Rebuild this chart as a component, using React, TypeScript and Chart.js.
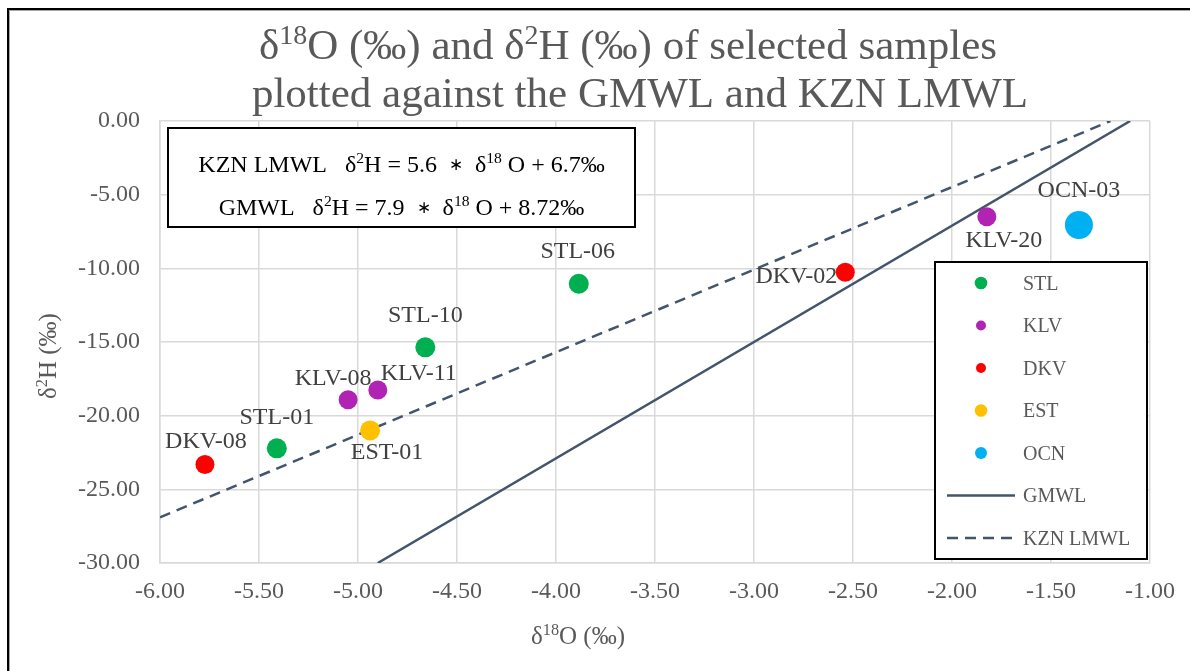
import { useEffect, useRef } from "react";
import { Chart, registerables } from "chart.js";
Chart.register(...registerables);

// ---------- data ----------
const stlX = [-5.41, -4.66, -3.885];
const stlY = [-22.22, -15.36, -11.05];
const stlLabels = ["STL-01", "STL-10", "STL-06"];

const klvX = [-5.05, -4.9, -1.824];
const klvY = [-18.92, -18.26, -6.5];
const klvLabels = ["KLV-08", "KLV-11", "KLV-20"];

const dkvX = [-5.773, -2.539];
const dkvY = [-23.31, -10.27];
const dkvLabels = ["DKV-08", "DKV-02"];

const estX = [-4.939];
const estY = [-21.0];
const estLabels = ["EST-01"];

const ocnX = [-1.359];
const ocnY = [-7.06];
const ocnLabels = ["OCN-03"];

const gmwlX = [-4.9, -1.1];
const gmwlY = [-30.0, 0.0];
const lmwlX = [-6.0, -1.2];
const lmwlY = [-26.9, 0.0];

const xTicksMin = -6;
const xTicksMax = -1;
const yTicksMin = -30;
const yTicksMax = 0;

// ---------- style ----------
const FONT = "'Liberation Serif', 'Times New Roman', serif";
const GREY = "#595959";
const LINE = "#44546A";

// label offsets (text center relative to point, px)
const labelOffsets: Record<string, [number, number]> = {
  "DKV-08": [1, -24],
  "STL-01": [0, -32],
  "KLV-08": [-15, -23],
  "KLV-11": [41, -18],
  "EST-01": [17, 21],
  "STL-10": [0, -33],
  "STL-06": [-1, -34],
  "DKV-02": [-49, 3],
  "KLV-20": [17, 22],
  "OCN-03": [0, -36],
};

type Seg = { t: string; sup?: boolean; scale?: number };

const titleLine1: Seg[] = [
  { t: "δ" }, { t: "18", sup: true }, { t: "O (‰) and δ" }, { t: "2", sup: true }, { t: "H (‰) of selected samples" },
];
const titleLine2: Seg[] = [{ t: "plotted against the GMWL and KZN LMWL" }];
const xTitle: Seg[] = [{ t: "δ" }, { t: "18", sup: true }, { t: "O (‰)" }];
const yTitle: Seg[] = [{ t: "δ" }, { t: "2", sup: true }, { t: "H (‰)" }];
const eq1: Seg[] = [
  { t: "KZN LMWL   δ" }, { t: "2", sup: true }, { t: "H = 5.6  " }, { t: "∗", scale: 0.7 }, { t: "  δ" },
  { t: "18", sup: true }, { t: " O + 6.7‰" },
];
const eq2: Seg[] = [
  { t: "GMWL   δ" }, { t: "2", sup: true }, { t: "H = 7.9  " }, { t: "∗", scale: 0.7 }, { t: "  δ" },
  { t: "18", sup: true }, { t: " O + 8.72‰" },
];

function drawRich(
  ctx: CanvasRenderingContext2D,
  segs: Seg[],
  x: number,
  cy: number,
  size: number,
  color: string,
  align: "center" | "left" = "center"
) {
  ctx.save();
  ctx.fillStyle = color;
  ctx.textBaseline = "alphabetic";
  ctx.textAlign = "left";
  const segSize = (s: Seg) => (s.sup ? size * 0.65 : size * (s.scale || 1));
  let total = 0;
  const widths = segs.map((s) => {
    ctx.font = `${segSize(s)}px ${FONT}`;
    const w = ctx.measureText(s.t).width;
    total += w;
    return w;
  });
  let cx = align === "center" ? x - total / 2 : x;
  const base = cy + size * 0.33;
  segs.forEach((s, i) => {
    ctx.font = `${segSize(s)}px ${FONT}`;
    let yy = base;
    if (s.sup) yy = base - size * 0.36;
    else if (s.scale) yy = base - size * 0.08;
    ctx.fillText(s.t, cx, yy);
    cx += widths[i];
  });
  ctx.restore();
}

const decorPlugin = {
  id: "decor",
  afterDraw(chart: any) {
    const ctx: CanvasRenderingContext2D = chart.ctx;
    const area = chart.chartArea;

    // title
    drawRich(ctx, titleLine1, 628, 45, 43, GREY);
    drawRich(ctx, titleLine2, 640, 93, 43, GREY);

    // axis titles
    drawRich(ctx, xTitle, (area.left + area.right) / 2 - 77, 636, 25, GREY);
    ctx.save();
    ctx.translate(48, (area.top + area.bottom) / 2 + 14);
    ctx.rotate(-Math.PI / 2);
    drawRich(ctx, yTitle, 0, 0, 25, GREY);
    ctx.restore();

    // data labels
    chart.data.datasets.forEach((ds: any, di: number) => {
      if (!ds.labels) return;
      const meta = chart.getDatasetMeta(di);
      meta.data.forEach((pt: any, i: number) => {
        const name = ds.labels[i];
        const off = labelOffsets[name] || [0, -30];
        ctx.save();
        ctx.font = `24px ${FONT}`;
        ctx.fillStyle = "#404040";
        ctx.textAlign = "center";
        ctx.textBaseline = "alphabetic";
        ctx.fillText(name, pt.x + off[0], pt.y + off[1] + 24 * 0.33);
        ctx.restore();
      });
    });

    // equation box
    const bx = area.left + 8, by = area.top + 7, bw = 467, bh = 99;
    ctx.save();
    ctx.fillStyle = "#fff";
    ctx.fillRect(bx, by, bw, bh);
    ctx.strokeStyle = "#000";
    ctx.lineWidth = 2;
    ctx.strokeRect(bx, by, bw, bh);
    ctx.restore();
    drawRich(ctx, eq1, bx + bw / 2, by + 36, 24, "#000");
    drawRich(ctx, eq2, bx + bw / 2, by + 79, 24, "#000");

    // legend box
    const lx = 935, ly = 262, lw = 212, lh = 297;
    ctx.save();
    ctx.fillStyle = "#fff";
    ctx.fillRect(lx, ly, lw, lh);
    ctx.strokeStyle = "#000";
    ctx.lineWidth = 2;
    ctx.strokeRect(lx, ly, lw, lh);
    chart.data.datasets.forEach((ds: any, i: number) => {
      const y = ly + 21 + i * 42.5;
      if (ds.showLine) {
        ctx.beginPath();
        ctx.strokeStyle = ds.borderColor;
        ctx.lineWidth = ds.borderWidth;
        ctx.setLineDash(ds.borderDash || []);
        ctx.moveTo(lx + 12, y);
        ctx.lineTo(lx + 80, y);
        ctx.stroke();
        ctx.setLineDash([]);
      } else {
        ctx.beginPath();
        ctx.fillStyle = ds.backgroundColor;
        ctx.arc(lx + 46, y, ds.legendRadius, 0, Math.PI * 2);
        ctx.fill();
      }
      ctx.font = `20px ${FONT}`;
      ctx.fillStyle = GREY;
      ctx.textAlign = "left";
      ctx.textBaseline = "alphabetic";
      ctx.fillText(ds.label, lx + 88, y + 20 * 0.33);
    });
    ctx.restore();
  },
};

function pts(xs: number[], ys: number[]) {
  return xs.map((x, i) => ({ x, y: ys[i] }));
}

export default function App() {
  const ref = useRef<HTMLCanvasElement | null>(null);
  useEffect(() => {
    if (!ref.current) return;
    const mk = (label: string, xs: number[], ys: number[], labels: string[], color: string, r: number, lr: number) => ({
      label,
      data: pts(xs, ys),
      labels,
      backgroundColor: color,
      borderColor: color,
      pointRadius: r,
      pointHoverRadius: r,
      pointBorderWidth: 0,
      legendRadius: lr,
      order: 0,
    });
    const chart = new Chart(ref.current, {
      type: "scatter",
      data: {
        datasets: [
          mk("STL", stlX, stlY, stlLabels, "#00B050", 10, 6.3),
          mk("KLV", klvX, klvY, klvLabels, "#B124B3", 9.5, 5),
          mk("DKV", dkvX, dkvY, dkvLabels, "#FF0000", 9.5, 5),
          mk("EST", estX, estY, estLabels, "#FFC000", 10, 6.3),
          mk("OCN", ocnX, ocnY, ocnLabels, "#00B0F0", 14, 6),
          {
            label: "GMWL",
            data: pts(gmwlX, gmwlY),
            showLine: true,
            borderColor: LINE,
            borderWidth: 2.5,
            pointRadius: 0,
            order: 10,
          },
          {
            label: "KZN LMWL",
            data: pts(lmwlX, lmwlY),
            showLine: true,
            borderColor: LINE,
            borderWidth: 2.5,
            borderDash: [11, 7],
            pointRadius: 0,
            order: 10,
          },
        ] as any,
      },
      options: {
        responsive: false,
        animation: false,
        layout: { padding: { top: 121, right: 40, left: 0, bottom: 0 } },
        plugins: { legend: { display: false }, title: { display: false }, tooltip: { enabled: false } },
        scales: {
          x: {
            type: "linear",
            min: xTicksMin,
            max: xTicksMax,
            ticks: {
              stepSize: 0.5,
              callback: (v: any) => Number(v).toFixed(2),
              font: { family: FONT, size: 24 },
              color: GREY,
              padding: 14,
              maxRotation: 0,
            },
            grid: { color: "#d9d9d9", lineWidth: 1.5, drawTicks: false },
            border: { display: true, color: "#d9d9d9", width: 1.5 },
            afterFit: (s: any) => { s.height = 108; },
          },
          y: {
            type: "linear",
            min: yTicksMin,
            max: yTicksMax,
            ticks: {
              stepSize: 5,
              callback: (v: any) => Number(v).toFixed(2),
              font: { family: FONT, size: 24 },
              color: GREY,
              padding: 20,
            },
            grid: { color: "#d9d9d9", lineWidth: 1.5, drawTicks: false },
            border: { display: true, color: "#d9d9d9", width: 1.5 },
            afterFit: (s: any) => { s.width = 160; },
          },
        },
      } as any,
      plugins: [decorPlugin],
    });
    return () => chart.destroy();
  }, []);

  return (
    <div style={{ position: "fixed", left: 0, top: 0, width: 1190, height: 671, background: "#fff", overflow: "hidden" }}>
      <div
        style={{
          position: "absolute",
          left: 7,
          top: 8,
          width: 1300,
          height: 800,
          borderTop: "2px solid #000",
          borderLeft: "2px solid #000",
          boxShadow: "inset 1px 1px 0 #a6a6a6",
        }}
      />
      <canvas ref={ref} width={1190} height={671} style={{ position: "absolute", left: 0, top: 0, width: 1190, height: 671 }} />
    </div>
  );
}
